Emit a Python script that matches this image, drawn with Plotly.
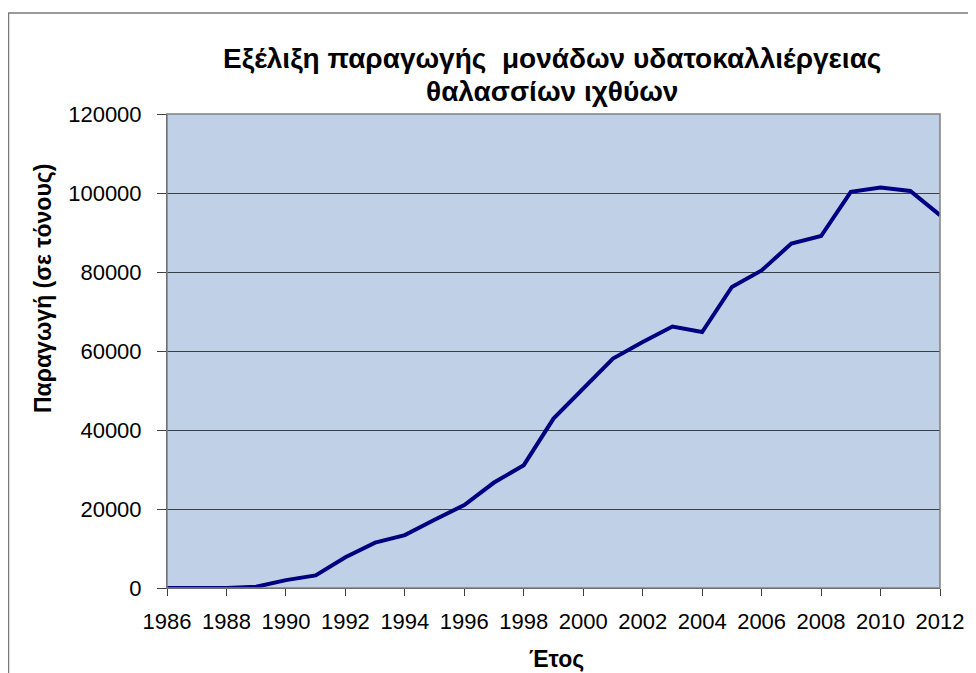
import plotly.graph_objects as go

years = list(range(1986, 2013))
production = [0, 0, 0, 300, 2000, 3200, 7800, 11500, 13400, 17300, 21000,
              26700, 31100, 42900, 50500, 58100, 62300, 66200, 64800, 76200,
              80400, 87200, 89100, 100300, 101400, 100500, 94400]

title_line1 = "Εξέλιξη παραγωγής  μονάδων υδατοκαλλιέργειας"
title_line2 = "θαλασσίων ιχθύων"
y_title = "Παραγωγή (σε τόνους)"
x_title = "Έτος"
y_ticks = [0, 20000, 40000, 60000, 80000, 100000, 120000]
x_ticks = list(range(1986, 2013, 2))

FONT = "Liberation Sans, Arial, sans-serif"

OFF = 8  # page offset of the figure inside the window
W, H = 976 - OFF, 673 - OFF
# plot area in window pixels
PL, PR, PT, PB = 167, 940, 114, 588
L, R, T, B = PL - OFF, W - (PR - OFF), PT - OFF, H - (PB - OFF)
pw, ph = W - L - R, H - T - B

def px(xs):
    return (xs - OFF - L) / pw

def py(ys):
    return (H - B - (ys - OFF)) / ph

fig = go.Figure()
fig.add_trace(go.Scatter(
    x=years, y=production, mode="lines",
    line=dict(color="#000080", width=4),
    showlegend=False, hoverinfo="x+y",
))

fig.update_layout(
    width=W, height=H,
    margin=dict(l=L, r=R, t=T, b=B, pad=0),
    paper_bgcolor="white",
    plot_bgcolor="#C0D1E7",
    font=dict(family=FONT, size=22, color="#000000"),
    xaxis=dict(
        range=[1986, 2012], tickvals=x_ticks, ticktext=[str(v) for v in x_ticks],
        ticks="outside", ticklen=7, tickcolor="#404040", tickwidth=1,
        showgrid=False, zeroline=False,
        showline=True, linecolor="#404040", linewidth=1, mirror=False,
        tickfont=dict(size=22, family=FONT), ticklabelstandoff=7,
    ),
    yaxis=dict(
        range=[0, 120000], tickvals=y_ticks, ticktext=[str(v) for v in y_ticks],
        ticks="outside", ticklen=9, tickcolor="#404040", tickwidth=1,
        showgrid=True, gridcolor="#3a3f45", gridwidth=1, zeroline=False,
        showline=True, linecolor="#404040", linewidth=1,
        tickfont=dict(size=22, family=FONT), ticklabelstandoff=11,
    ),
    shapes=[
        dict(type="rect", xref="paper", yref="paper", x0=0, y0=0, x1=1, y1=1,
             line=dict(color="#808080", width=1.5), layer="above"),
        dict(type="rect", xref="paper", yref="paper",
             x0=px(8.5), y0=py(720), x1=px(1020), y1=py(13),
             line=dict(color="#7a7a7a", width=1.5), layer="below"),
    ],
    annotations=[
        dict(text="<b>" + title_line1 + "</b>", xref="paper", yref="paper",
             x=px(552), y=py(58), xanchor="center", yanchor="middle",
             showarrow=False, font=dict(size=28, family=FONT)),
        dict(text="<b>" + title_line2 + "</b>", xref="paper", yref="paper",
             x=px(552), y=py(91), xanchor="center", yanchor="middle",
             showarrow=False, font=dict(size=28, family=FONT)),
        dict(text="<b>" + y_title + "</b>", xref="paper", yref="paper",
             x=px(43), y=py(289), xanchor="center", yanchor="middle",
             textangle=-90, showarrow=False, font=dict(size=23, family=FONT)),
        dict(text="<b>" + x_title + "</b>", xref="paper", yref="paper",
             x=px(556), y=py(659), xanchor="center", yanchor="middle",
             showarrow=False, font=dict(size=23, family=FONT)),
    ],
)

fig.write_html("out.html")
